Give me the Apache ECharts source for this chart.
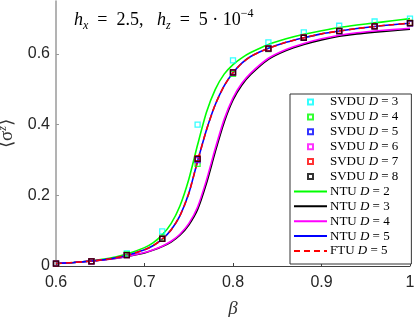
<!DOCTYPE html>
<html>
<head>
<meta charset="utf-8">
<script src="https://cdn.jsdelivr.net/npm/echarts@6/dist/echarts.min.js"></script>
<style>html,body{margin:0;padding:0;background:#fff}#c{width:415px;height:317px}</style>
</head>
<body>
<div id="c"></div>
<script>
// ---- data ----
var betaPts = [0.60,0.64,0.68,0.72,0.76,0.80,0.84,0.88,0.92,0.96,1.00];
var svdu3 = [0.008,0.014,0.036,0.098,0.400,0.582,0.633,0.661,0.680,0.692,0.700];
var svdu4 = [0.007,0.014,0.033,0.080,0.289,0.544,0.614,0.646,0.665,0.678,0.688];
var svdu5 = [0.007,0.013,0.031,0.077,0.300,0.547,0.615,0.646,0.665,0.678,0.687];
var svdu6 = [0.007,0.013,0.031,0.077,0.302,0.548,0.615,0.646,0.665,0.678,0.687];
var svdu7 = [0.007,0.013,0.031,0.077,0.305,0.548,0.616,0.647,0.666,0.679,0.688];
var svdu8 = [0.007,0.013,0.031,0.077,0.303,0.548,0.615,0.646,0.665,0.678,0.687];

var betaCurve = [0.60,0.62,0.64,0.66,0.68,0.70,0.71,0.72,0.73,0.74,0.75,0.76,0.77,0.78,0.79,0.80,0.81,0.82,0.84,0.86,0.88,0.90,0.92,0.94,0.96,0.98,1.00];
var ntu2 = [0.007,0.010,0.015,0.022,0.034,0.052,0.066,0.088,0.120,0.170,0.245,0.343,0.435,0.500,0.543,0.570,0.589,0.604,0.627,0.643,0.656,0.666,0.675,0.682,0.688,0.694,0.700];
var ntu3 = [0.007,0.010,0.014,0.019,0.027,0.037,0.045,0.055,0.068,0.087,0.116,0.160,0.234,0.324,0.407,0.470,0.512,0.542,0.585,0.610,0.627,0.640,0.650,0.657,0.662,0.666,0.670];
var ntu4 = [0.007,0.010,0.014,0.019,0.027,0.038,0.046,0.056,0.070,0.090,0.120,0.167,0.243,0.333,0.415,0.476,0.517,0.546,0.588,0.613,0.630,0.643,0.653,0.660,0.665,0.669,0.673];
var ntu5 = [0.007,0.010,0.014,0.020,0.030,0.046,0.058,0.076,0.102,0.142,0.205,0.297,0.385,0.457,0.510,0.547,0.574,0.593,0.616,0.633,0.646,0.657,0.665,0.672,0.678,0.683,0.687];
var ftu5 = [0.007,0.010,0.014,0.020,0.030,0.046,0.058,0.076,0.102,0.142,0.205,0.297,0.385,0.457,0.510,0.547,0.574,0.593,0.616,0.633,0.646,0.657,0.665,0.672,0.678,0.683,0.687];

var xTicks = [0.6,0.7,0.8,0.9,1];
var yTicks = [0,0.2,0.4,0.6];

function pairs(xs, ys){ return xs.map(function(x,i){ return [x, ys[i]]; }); }

var serif = 'Liberation Serif';
var chart = echarts.init(document.getElementById('c'), null, {renderer:'canvas'});

function scatter(name, vals, color){
  return {name:name, type:'scatter', data:pairs(betaPts, vals), symbol:'rect', symbolSize:5, z:5,
    itemStyle:{color:'rgba(255,255,255,0)', borderColor:color, borderWidth:1.3}};
}
function line(name, vals, color, dashed){
  return {name:name, type:'line', data:pairs(betaCurve, vals), symbol:'none', smooth:0.22,
    z: dashed?4:3,
    lineStyle:{color:color, width:1.6, type: dashed?[6,4]:'solid'}, itemStyle:{color:color}};
}

var sq = 'path://M0,0L10,0L10,10L0,10Z';
var legendNames = ['SVDU D=3','SVDU D=4','SVDU D=5','SVDU D=6','SVDU D=7','SVDU D=8','NTU D=2','NTU D=3','NTU D=4','NTU D=5','FTU D=5'];
var legendData = legendNames.map(function(n){
  if (n.indexOf('SVDU') === 0) return {name:n, icon:sq};
  return {name:n, itemStyle:{opacity:0}};
});

var option = {
  animation:false,
  title:{
    text:'{i|h}{s|x}{n|  =  2.5,   }{i|h}{s|z}{n|  =  5 · 10}{p|−4}',
    left:69, top:3,
    textStyle:{
      fontWeight:'normal',
      rich:{
        i:{fontFamily:serif, fontStyle:'italic', fontWeight:'normal', fontSize:18, lineHeight:24, color:'#000'},
        n:{fontFamily:serif, fontWeight:'normal', fontSize:18, lineHeight:24, color:'#000'},
        s:{fontFamily:serif, fontStyle:'italic', fontWeight:'normal', fontSize:12, lineHeight:13, verticalAlign:'bottom', color:'#000'},
        p:{fontFamily:serif, fontWeight:'normal', fontSize:12, lineHeight:12, verticalAlign:'top', color:'#000'}
      }
    }
  },
  grid:{left:56, right:5, top:1, bottom:51, containLabel:false, outerBoundsMode:'none'},
  legend:{
    orient:'vertical', left:290, top:94,
    padding:[1,13,6,3],
    itemWidth:33, itemHeight:5, itemGap:0.9,
    symbolKeepAspect:true,
    borderColor:'#333', borderWidth:1, backgroundColor:'#fff',
    data:legendData,
    formatter:function(name){
      var p = name.split(' ');
      return '{n|' + p[0] + ' }{i|D}{n| = ' + p[1].split('=')[1] + '}';
    },
    textStyle:{
      fontFamily:serif, fontSize:13, lineHeight:14, color:'#000', padding:[0,0,0,-2],
      rich:{
        n:{fontFamily:serif, fontSize:13, lineHeight:14, color:'#000'},
        i:{fontFamily:serif, fontStyle:'italic', fontSize:13, lineHeight:14, color:'#000'}
      }
    }
  },
  xAxis:{
    type:'value', min:0.6, max:1.0, interval:0.1,
    name:'{b|β}', nameLocation:'middle', nameGap:33,
    nameTextStyle:{rich:{b:{fontFamily:serif, fontStyle:'italic', fontSize:19, color:'#333'}}},
    axisLine:{show:true, onZero:false, lineStyle:{color:'#404040', width:1}},
    axisTick:{inside:true, length:3, lineStyle:{color:'#404040'}},
    axisLabel:{margin:9, fontFamily:'Liberation Sans', fontSize:16, color:'#262626',
      formatter:function(v){ return String(+v.toFixed(2)); }},
    splitLine:{show:false}
  },
  yAxis:{
    type:'value', min:0, max:0.75, interval:0.2,
    name:'{n|⟨σ}{s|z}{n|⟩}', nameLocation:'middle', nameGap:27, nameRotate:90,
    nameTextStyle:{rich:{
      n:{fontFamily:serif, fontSize:19, lineHeight:22, color:'#333'},
      s:{fontFamily:serif, fontStyle:'italic', fontSize:12, lineHeight:12, verticalAlign:'top', color:'#333'}
    }},
    axisLine:{show:true, lineStyle:{color:'#9a9a9a', width:1.5}},
    axisTick:{inside:true, length:3, lineStyle:{color:'#9a9a9a'}},
    axisLabel:{margin:6, showMaxLabel:false, fontFamily:'Liberation Sans', fontSize:16, color:'#262626',
      formatter:function(v){ return String(+v.toFixed(2)); }},
    splitLine:{show:false}
  },
  series:[
    scatter('SVDU D=3', svdu3, '#00ffff'),
    scatter('SVDU D=4', svdu4, '#00ff00'),
    scatter('SVDU D=5', svdu5, '#0000ff'),
    scatter('SVDU D=6', svdu6, '#ff00ff'),
    scatter('SVDU D=7', svdu7, '#ff0000'),
    scatter('SVDU D=8', svdu8, '#000000'),
    line('NTU D=2', ntu2, '#00ff00', false),
    line('NTU D=3', ntu3, '#000000', false),
    line('NTU D=4', ntu4, '#ff00ff', false),
    line('NTU D=5', ntu5, '#0000ff', false),
    line('FTU D=5', ftu5, '#ff0000', true)
  ]
};
chart.setOption(option);
</script>
</body>
</html>
